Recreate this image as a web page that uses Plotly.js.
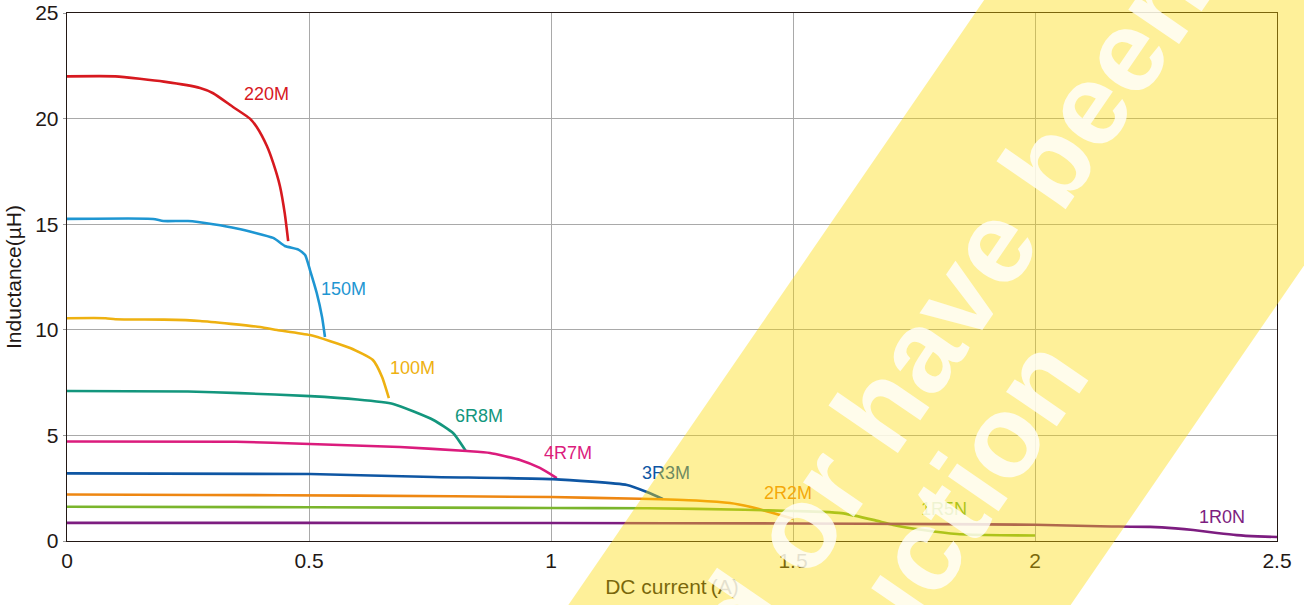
<!DOCTYPE html>
<html>
<head>
<meta charset="utf-8">
<script src="https://cdn.plot.ly/plotly-3.0.1.min.js"></script>
<style>
  html, body { margin: 0; padding: 0; background: #ffffff; }
  #chart { width: 1304px; height: 605px; }
</style>
</head>
<body>
<div id="chart"></div>
<script>
// ---- Data (DC current in A, inductance in µH) ----
const seriesNames = ["220M", "150M", "100M", "6R8M", "4R7M", "3R3M", "2R2M", "1R5N", "1R0N"];

const current220M = [0, 0.1, 0.2, 0.275, 0.302, 0.343, 0.378, 0.392, 0.413, 0.426, 0.44, 0.45, 0.457];
const induct220M  = [22.0, 22.0, 21.75, 21.45, 21.2, 20.55, 20.0, 19.6, 18.7, 17.9, 16.8, 15.5, 14.2];

const current150M = [0, 0.178, 0.199, 0.25, 0.302, 0.351, 0.426, 0.45, 0.478, 0.492, 0.502, 0.516, 0.527, 0.533];
const induct150M  = [15.25, 15.25, 15.15, 15.15, 15.0, 14.8, 14.35, 13.97, 13.8, 13.54, 12.83, 11.74, 10.6, 9.66];

const current100M = [0, 0.08, 0.1, 0.2, 0.275, 0.399, 0.434, 0.502, 0.585, 0.632, 0.651, 0.665];
const induct100M  = [10.55, 10.55, 10.5, 10.48, 10.42, 10.13, 9.99, 9.75, 9.14, 8.57, 7.77, 6.77];

const current6R8M = [0, 0.25, 0.357, 0.502, 0.6, 0.674, 0.757, 0.798, 0.824];
const induct6R8M  = [7.1, 7.08, 7.0, 6.86, 6.7, 6.49, 5.73, 5.1, 4.26];

const current4R7M = [0, 0.35, 0.502, 0.688, 0.826, 0.874, 0.936, 0.977, 1.012];
const induct4R7M  = [4.71, 4.7, 4.59, 4.45, 4.26, 4.17, 3.84, 3.46, 2.98];

const current3R3M = [0, 0.502, 0.757, 1.004, 1.157, 1.198, 1.231];
const induct3R3M  = [3.2, 3.17, 3.03, 2.93, 2.65, 2.32, 1.99];

const current2R2M = [0, 0.275, 0.6, 1.0, 1.184, 1.3, 1.37, 1.411, 1.455, 1.5];
const induct2R2M  = [2.2, 2.18, 2.15, 2.08, 2.0, 1.92, 1.8, 1.62, 1.35, 1.05];

const current1R5N = [0, 0.5, 1.0, 1.2, 1.4, 1.5, 1.56, 1.6, 1.666, 1.707, 1.769, 1.839, 1.93, 2.0];
const induct1R5N  = [1.62, 1.6, 1.56, 1.55, 1.48, 1.42, 1.38, 1.32, 1.0, 0.76, 0.52, 0.33, 0.27, 0.26];

const current1R0N = [0, 0.5, 1.0, 1.5, 1.8, 2.0, 2.134, 2.238, 2.29, 2.327, 2.376, 2.417, 2.46, 2.5];
const induct1R0N  = [0.86, 0.86, 0.85, 0.83, 0.8, 0.77, 0.7, 0.67, 0.6, 0.52, 0.38, 0.28, 0.22, 0.19];

// label anchor positions (data coordinates)
const labelCurrent = [0.413, 0.572, 0.713, 0.851, 1.035, 1.238, 1.49, 1.812, 2.386];
const labelInduct  = [21.16, 11.93, 8.19, 5.92, 4.17, 3.22, 2.27, 1.52, 1.14];

const xTickVals = [0, 0.5, 1, 1.5, 2, 2.5];
const xTickText = ["0", "0.5", "1", "1.5", "2", "2.5"];
const yTickVals = [0, 5, 10, 15, 20, 25];
const yTickText = ["0", "5", "10", "15", "20", "25"];

const watermarkLines = ["discontinued or have been", "production"];

// ---- Styles ----
const seriesColors = ["#D7191F", "#1E96D2", "#EEB111", "#13967D", "#DB1C7D", "#0E56A3", "#EE8712", "#7AB52C", "#7D1D80"];

const xsAll = [current220M, current150M, current100M, current6R8M, current4R7M, current3R3M, current2R2M, current1R5N, current1R0N];
const ysAll = [induct220M, induct150M, induct100M, induct6R8M, induct4R7M, induct3R3M, induct2R2M, induct1R5N, induct1R0N];

const traces = seriesNames.map((name, i) => ({
  type: "scatter",
  mode: "lines",
  name: name,
  x: xsAll[i],
  y: ysAll[i],
  line: { color: seriesColors[i], width: 2.6, shape: "spline", smoothing: 0.5 },
  hoverinfo: "x+y+name"
}));

const FONT = "Liberation Sans, Arial, Helvetica, sans-serif";
const TXT = "#231815";

const annotations = seriesNames.map((name, i) => ({
  x: labelCurrent[i], y: labelInduct[i], xref: "x", yref: "y",
  text: name, showarrow: false,
  xanchor: "center", yanchor: "middle",
  font: { family: FONT, size: 18, color: seriesColors[i] }
}));

// yellow watermark band (rotated box) and its white text
annotations.push({
  xref: "paper", yref: "paper", x: 0.7932, y: 0.4517,
  xanchor: "center", yanchor: "middle",
  text: " ", showarrow: false,
  width: 1900, height: 414, borderpad: 0, borderwidth: 0,
  bgcolor: "rgba(253,218,0,0.4)", textangle: -55.5,
  font: { family: FONT, size: 10, color: "rgba(0,0,0,0)" }
});
const wmCenters = [[0.5775, -0.0653], [0.6781, -0.115]];
watermarkLines.forEach((t, i) => {
  annotations.push({
    xref: "paper", yref: "paper", x: wmCenters[i][0], y: wmCenters[i][1],
    xanchor: "center", yanchor: "middle",
    text: t, showarrow: false, textangle: -55.5, borderpad: 0,
    font: { family: FONT, size: 116, weight: 700, color: "rgba(255,255,255,0.8)" }
  });
});

const layout = {
  width: 1304, height: 605,
  margin: { l: 67, r: 27, t: 13, b: 64, pad: 0 },
  paper_bgcolor: "#ffffff",
  plot_bgcolor: "#ffffff",
  showlegend: false,
  font: { family: FONT, color: TXT },
  xaxis: {
    range: [0, 2.5],
    tickmode: "array", tickvals: xTickVals, ticktext: xTickText,
    ticks: "", ticklabelstandoff: 0,
    tickfont: { family: FONT, size: 21, color: TXT },
    showgrid: true, gridcolor: "#a9a9a9", gridwidth: 1,
    zeroline: false,
    showline: true, mirror: true, linecolor: "#231815", linewidth: 1.3,
    title: { text: "DC current\u2009(A)", font: { family: FONT, size: 21, color: TXT }, standoff: 8 }
  },
  yaxis: {
    range: [0, 25],
    tickmode: "array", tickvals: yTickVals, ticktext: yTickText,
    ticks: "outside", ticklen: 3, tickcolor: "#999999", tickwidth: 1,
    tickfont: { family: FONT, size: 21, color: TXT },
    showgrid: true, gridcolor: "#a9a9a9", gridwidth: 1,
    zeroline: false,
    showline: true, mirror: true, linecolor: "#231815", linewidth: 1.3,
    title: { text: "Inductance(µH)", font: { family: FONT, size: 21, color: TXT }, standoff: 7 }
  },
  annotations: annotations
};

Plotly.newPlot("chart", traces, layout, { displayModeBar: false, staticPlot: true });
</script>
</body>
</html>
